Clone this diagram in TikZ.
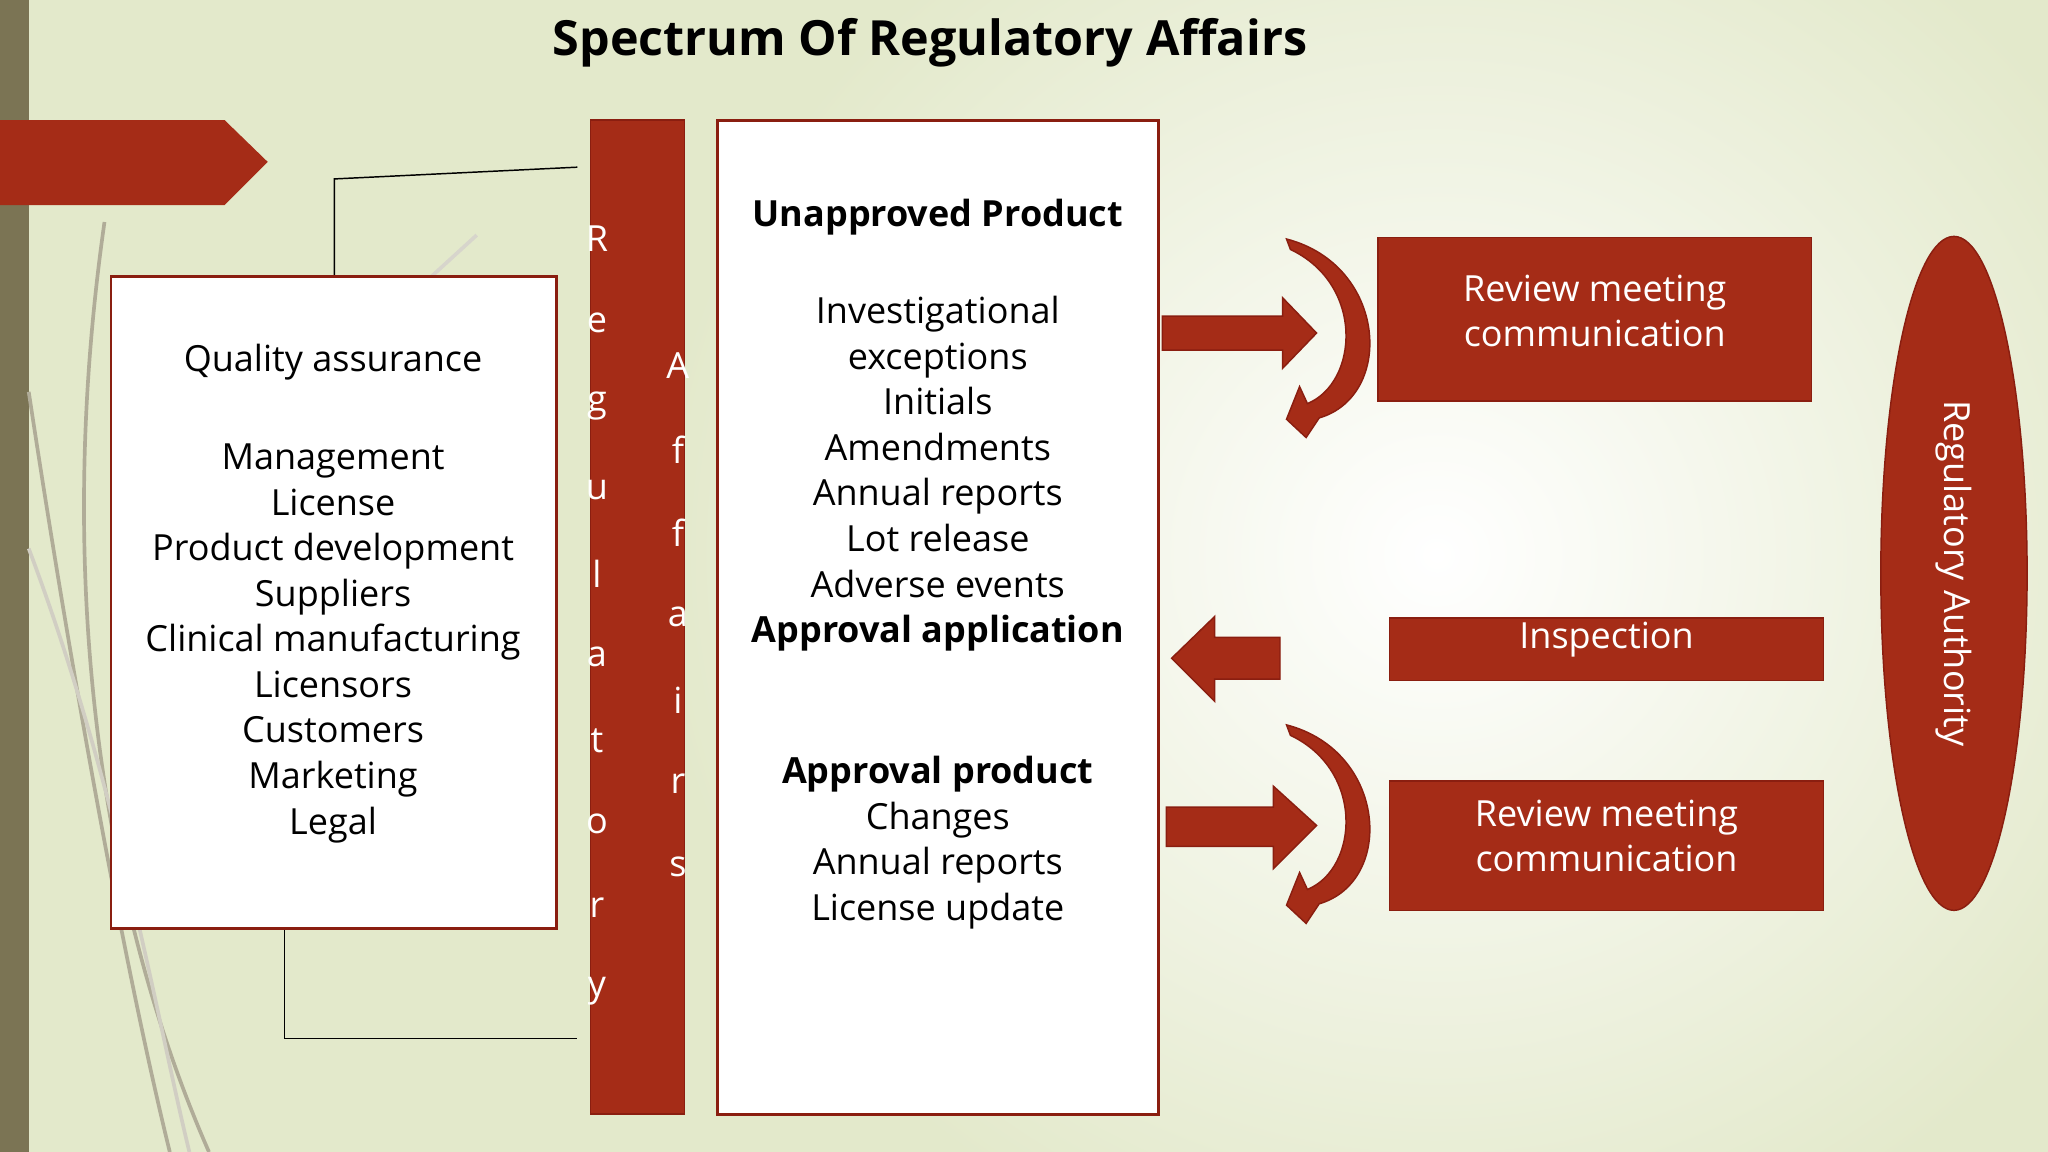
\documentclass[tikz,border=0pt]{standalone}
\usepackage{fontspec}
\setmainfont{Open Sans}
\usetikzlibrary{shapes,positioning,calc}
\definecolor{darkred}{HTML}{A52C17}
\definecolor{edgered}{HTML}{8A1E10}
\definecolor{olive}{HTML}{7B7454}
\definecolor{paper}{HTML}{E3E9CB}
\begin{document}
\begin{tikzpicture}[x=0.0125cm, y=-0.0125cm]
  \tikzstyle{redbox} = [draw=edgered, fill=darkred]
  \tikzstyle{redtxt} = [text=white, align=center, font=\fontsize{9.8}{12.4}\selectfont]
  \tikzstyle{whitebox} = [draw=edgered, fill=white, thick]
  \tikzstyle{txt} = [align=center, font=\fontsize{9.8}{12.4}\selectfont]
  \tikzstyle{letter} = [text=white, font=\fontsize{9.8}{12}\selectfont]
  \tikzstyle{deco} = [draw=olive!60, line width=1pt]

  % background
  \useasboundingbox (0,0) rectangle (1568,882);
  \begin{scope}
    \clip (0,0) rectangle (1568,882);
    \fill[paper] (0,0) rectangle (1568,882);
    \shade[inner color=white, outer color=paper] (500,-150) rectangle (1700,1000);
  \end{scope}
  \fill[olive] (0,0) rectangle (22,882);
  \draw[deco] (80,170) .. controls (40,450) and (80,700) .. (160,882);
  \draw[deco] (22,300) .. controls (60,550) and (100,760) .. (130,882);
  \draw[deco, draw=olive!35] (22,420) .. controls (90,600) and (120,780) .. (145,882);
  \draw[deco, draw=olive!30] (365,180) -- (330,212);
  \fill[darkred] (0,92) -- (172,92) -- (205,124) -- (172,157) -- (0,157) -- cycle;

  \node[font=\bfseries\fontsize{13.2}{16}\selectfont] (title) at (712,33) {Spectrum Of Regulatory Affairs};

  % bracket lines
  \coordinate (b1) at (442,128);
  \coordinate (b2) at (442,795);
  \draw (b1) -- (256,137) -- (256,212);
  \draw (218,711) -- (218,795) -- (b2);

  % left box
  \draw[whitebox] (85,212) rectangle (426,711);
  \node[txt] (qa) at (255,277) {Quality assurance};
  \node[txt, anchor=north] (qalist) at (255,330)
    {Management\\License\\Product development\\Suppliers\\Clinical manufacturing\\Licensors\\Customers\\Marketing\\Legal};

  % red bar
  \draw[redbox] (452,92) rectangle (524,853);
  \foreach \ch [count=\i] in {R,e,g,u,l,a,t,o,r,y}
    \node[letter] (r\i) at (457,{183+(\i-1)*64}) {\ch};
  \foreach \ch [count=\i] in {A,f,f,a,i,r,s}
    \node[letter] (a\i) at (519,{280+(\i-1)*64}) {\ch};

  % middle box
  \draw[whitebox] (549,92) rectangle (887,853);
  \node[txt] (unapp) at (718,166) {\textbf{Unapproved Product}};
  \node[txt, anchor=north] (unlist) at (718,217)
    {Investigational\\exceptions\\Initials\\Amendments\\Annual reports\\Lot release\\Adverse events\\\textbf{Approval application}};
  \node[txt, anchor=north] (applist) at (718,569)
    {\textbf{Approval product}\\Changes\\Annual reports\\License update};

  % block arrows
  \fill[darkred, draw=edgered] (890,242) -- (982,242) -- (982,228) -- (1008,255) -- (982,282) -- (982,268) -- (890,268) -- cycle;
  \fill[darkred, draw=edgered] (980,488) -- (930,488) -- (930,472) -- (897,504) -- (930,537) -- (930,520) -- (980,520) -- cycle;
  \fill[darkred, draw=edgered] (893,618) -- (975,618) -- (975,602) -- (1008,632) -- (975,665) -- (975,648) -- (893,648) -- cycle;

  % curved arrows
  \foreach \y in {183,555}{
    \fill[darkred, draw=edgered] (985,\y) .. controls (1062,{\y+20}) and (1068,{\y+120}) .. (1010,{\y+137})
      -- (1000,{\y+152}) -- (985,{\y+138}) -- (995,{\y+113}) -- (1001,{\y+126})
      .. controls (1040,{\y+110}) and (1045,{\y+35}) .. (988,{\y+8}) -- cycle;
  }

  % right boxes
  \draw[redbox] (1055,182) rectangle (1387,307);
  \node[redtxt] (rev1) at (1221,238) {Review meeting\\communication};
  \draw[redbox] (1064,473) rectangle (1396,521);
  \node[redtxt] (insp) at (1230,490) {Inspection};
  \draw[redbox] (1064,598) rectangle (1396,697);
  \node[redtxt] (rev2) at (1230,640) {Review meeting\\communication};

  \node[ellipse, draw=edgered, fill=darkred, minimum width=112*0.0125cm, minimum height=516*0.0125cm] (auth) at (1496,439) {};
  \node[rotate=-90, text=white, font=\fontsize{9.8}{12}\selectfont] (authtxt) at (auth.center) {Regulatory Authority};
\end{tikzpicture}
\end{document}
